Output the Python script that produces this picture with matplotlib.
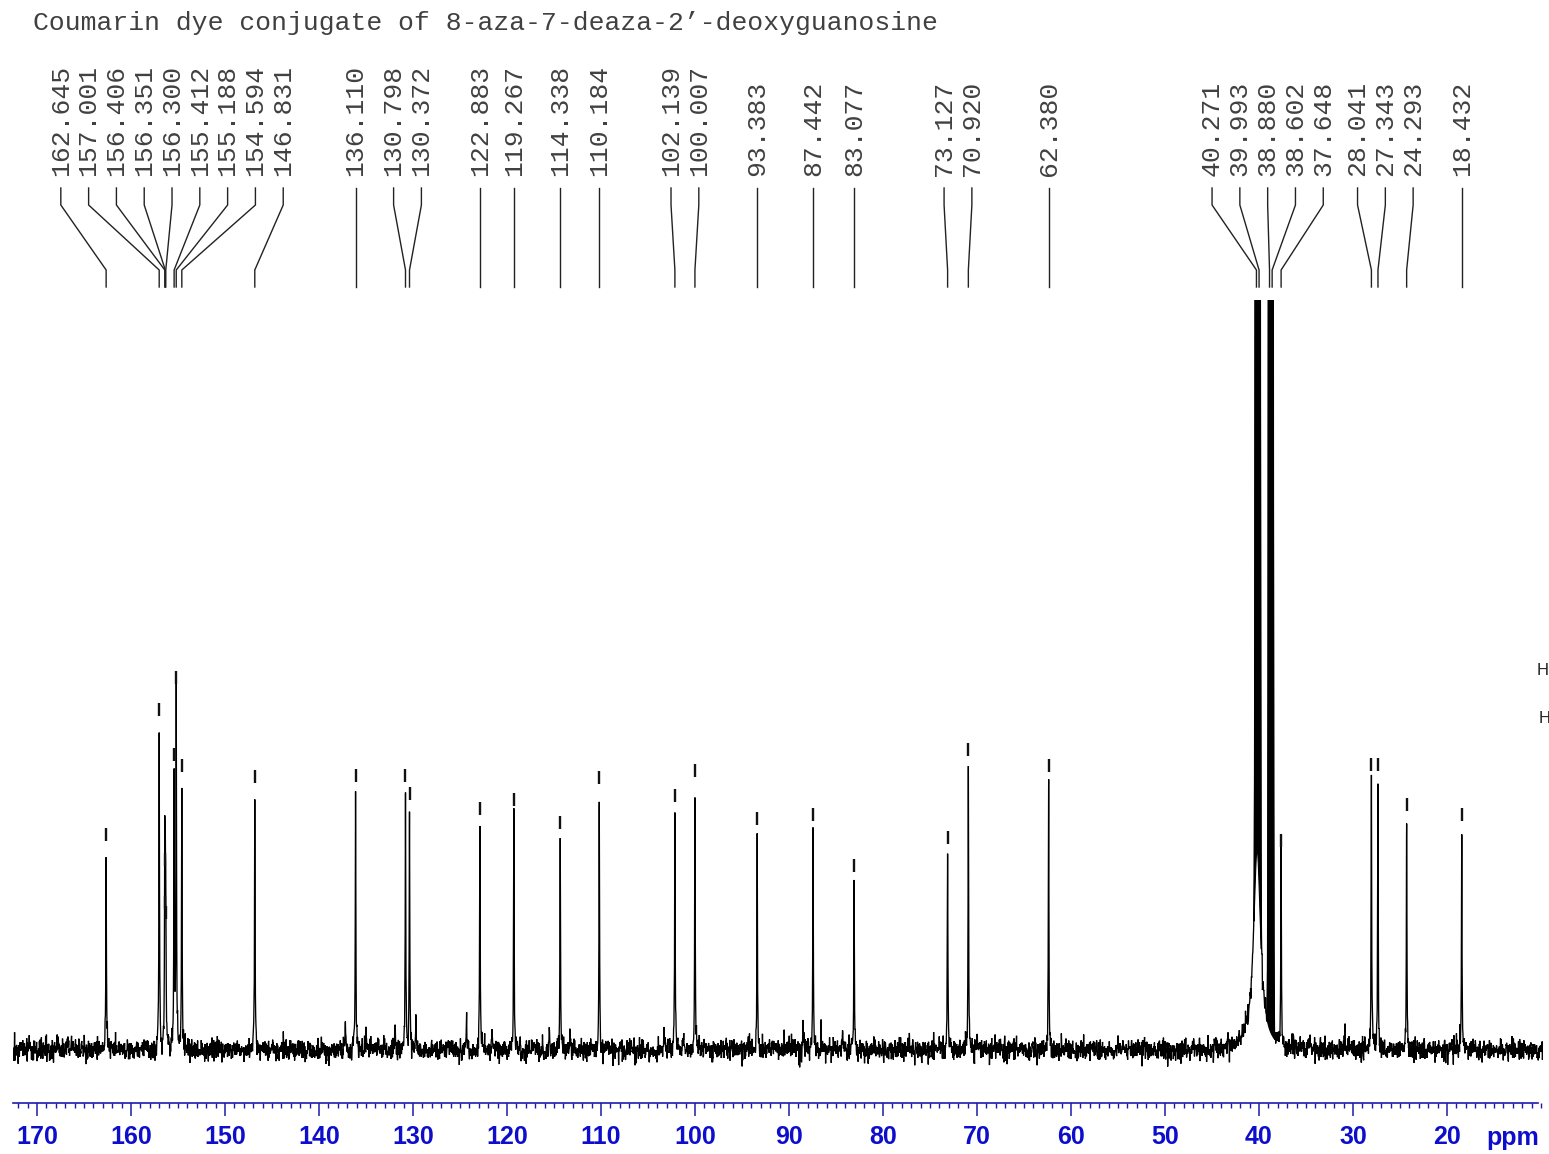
import numpy as np
import matplotlib
matplotlib.use("Agg")
import matplotlib.pyplot as plt
from matplotlib import transforms
from matplotlib.ticker import FixedLocator, NullFormatter

# ---------------------------------------------------------------- data
TITLE = "Coumarin dye conjugate of 8-aza-7-deaza-2\u2019-deoxyguanosine"

# picked 13C signals (ppm) and their intensities (arbitrary units)
peak_ppm = [162.645, 157.001, 156.406, 156.351, 156.300, 155.412, 155.188,
            154.594, 146.831, 136.110, 130.798, 130.372, 122.883, 119.267,
            114.338, 110.184, 102.139, 100.007, 93.383, 87.442, 83.077,
            73.127, 70.920, 62.380, 40.271, 39.993, 38.880, 38.602, 37.648,
            28.041, 27.343, 24.293, 18.432]
peak_height = [198, 323, 173, 130, 120, 278, 355,
               267, 256, 257, 257, 239, 224, 233,
               210, 255, 237, 262, 214, 218, 167,
               195, 283, 267, 3000, 3000, 3000, 3000, 192,
               268, 268, 228, 218]

# the off-scale DMSO-d6 lines (Gaussian width, ppm)
solvent_sigma = {40.271: 0.08, 39.993: 0.08, 38.880: 0.075, 38.602: 0.075}
# broad foot under the solvent multiplet
solvent_base_ppm = 40.2
solvent_base_width = 0.45
solvent_base_height = 200

# small unpicked signals
minor_ppm = [137.2, 135.0, 131.9, 129.7, 124.3, 121.6, 115.5, 113.3,
             103.3, 101.2, 88.5, 86.6, 84.3, 70.0, 30.85]
minor_height = [25, 25, 32, 32, 32, 20, 23, 23,
                18, 20, 25, 18, 22, 20, 20]

major_ticks = [170, 160, 150, 140, 130, 120, 110, 100, 90, 80, 70, 60, 50, 40, 30, 20]

# ---------------------------------------------------------------- layout
W, H = 1549, 1154
DPI = 100
PX_PER_PPM = 9.4
X0_PX, X0_PPM = 37, 170.0


def px_to_ppm(xp):
    return X0_PPM - (xp - X0_PX) / PX_PER_PPM


def fy(yp):
    return 1 - yp / H


AXIS_BLUE = "#1c1ca8"
LABEL_BLUE = "#0d0dcc"
INK = "#111111"
TEXT_GREY = "#404040"

fig = plt.figure(figsize=(W / DPI, H / DPI), dpi=DPI)
fig.patch.set_facecolor("white")

ax_left, ax_right = 13, 1543
ax_top, ax_bottom = 300, 1103
baseline_px = 1050
ax = fig.add_axes([ax_left / W, fy(ax_bottom), (ax_right - ax_left) / W,
                   (ax_bottom - ax_top) / H])
ax.set_xlim(px_to_ppm(ax_left), px_to_ppm(ax_right))
ax.set_ylim(-(ax_bottom - baseline_px), baseline_px - ax_top)
ax.patch.set_alpha(0)

# ---------------------------------------------------------------- spectrum
grid = np.arange(px_to_ppm(ax_right + 2), px_to_ppm(ax_left - 2), 0.03)
grid = np.union1d(grid, np.array(peak_ppm))
spec = np.zeros_like(grid)
for p, h in zip(peak_ppm, peak_height):
    if p in solvent_sigma:
        s = solvent_sigma[p]
        spec += h * np.exp(-0.5 * ((grid - p) / s) ** 2)
    else:
        w = 0.035
        spec += h * w ** 2 / (w ** 2 + (grid - p) ** 2)
for p, h in zip(minor_ppm, minor_height):
    w = 0.035
    spec += h * w ** 2 / (w ** 2 + (grid - p) ** 2)
wb = solvent_base_width
foot = solvent_base_height * wb ** 2 / (wb ** 2 + (grid - solvent_base_ppm) ** 2)
spec += foot

# receiver noise along the baseline
rng = np.random.default_rng(11)
baseline_noise = rng.normal(0.0, 5.4, grid.size)
trace = spec + baseline_noise

ax.plot(grid, trace, color="black", lw=0.95, solid_joinstyle="miter")

# the off-scale solvent lines are drawn as solid bars down to the broad foot
for lo, hi in ((39.75, 40.55), (38.35, 39.15)):
    zone = (grid > lo) & (grid < hi)
    ax.fill_between(grid, trace, foot, where=zone & (trace > foot), color="black", lw=0.8)

# peak pick markers above every signal
mk_lo = [h + 11 for h in peak_height]
mk_hi = [h + 24 for h in peak_height]
ax.vlines(peak_ppm, mk_lo, mk_hi, color=INK, lw=1.7)

# ---------------------------------------------------------------- axis
for s in ("top", "left", "right"):
    ax.spines[s].set_visible(False)
ax.spines["bottom"].set_color(AXIS_BLUE)
ax.spines["bottom"].set_linewidth(1.2)
ax.spines["bottom"].set_bounds(px_to_ppm(ax_left), px_to_ppm(1538))
ax.set_yticks([])
ax.xaxis.set_major_locator(FixedLocator(major_ticks))
ax.xaxis.set_minor_locator(FixedLocator([v for v in range(10, 173) if v not in major_ticks]))
ax.xaxis.set_minor_formatter(NullFormatter())
ax.tick_params(axis="x", which="major", direction="out", length=9.5, width=1.1,
               color=AXIS_BLUE, pad=6.5, labelsize=18, labelcolor=LABEL_BLUE)
ax.tick_params(axis="x", which="minor", direction="out", length=3.8, width=1.0,
               color=AXIS_BLUE)
for lab in ax.get_xticklabels():
    lab.set_fontfamily(["Liberation Sans", "DejaVu Sans"])
    lab.set_fontweight("bold")

fig.text(1513 / W, fy(1145), "ppm", ha="center", va="baseline", fontsize=18,
         fontweight="bold", color=LABEL_BLUE, family=["Liberation Sans", "DejaVu Sans"])

# ---------------------------------------------------------------- title
fig.text(33 / W, fy(30), TITLE, ha="left", va="baseline", fontsize=19,
         family=["Liberation Mono", "DejaVu Sans Mono"], color=TEXT_GREY)

# ---------------------------------------------------------------- peak labels
gap = 27.8 / PX_PER_PPM
order = sorted(range(len(peak_ppm)), key=lambda i: -peak_ppm[i])
clusters = [[i] for i in order]


def place(cl):
    c = np.mean([peak_ppm[i] for i in cl])
    n = len(cl)
    return [c + gap * ((n - 1) / 2 - k) for k in range(n)]


changed = True
while changed:
    changed = False
    for j in range(len(clusters) - 1):
        a = place(clusters[j])
        b = place(clusters[j + 1])
        if a[-1] - b[0] < gap - 1e-9:
            clusters[j] = clusters[j] + clusters[j + 1]
            del clusters[j + 1]
            changed = True
            break

label_pos = {}
for cl in clusters:
    for i, lp in zip(cl, place(cl)):
        label_pos[i] = lp

blend = transforms.blended_transform_factory(ax.transData, fig.transFigure)
for i, p in enumerate(peak_ppm):
    lp = label_pos[i]
    ax.text(lp, fy(176), f"{p:.3f}", rotation=90, ha="center", va="bottom",
            transform=blend, fontsize=19, color=TEXT_GREY,
            family=["Liberation Mono", "DejaVu Sans Mono"], clip_on=False)
    ax.plot([lp, lp, p, p], [fy(188), fy(205), fy(270), fy(287)],
            transform=blend, color="#222222", lw=1.0, clip_on=False)

# partially visible atom labels at the right margin
fig.text(1537 / W, fy(675), "H", fontsize=12, color="#222222",
         family=["Liberation Sans", "DejaVu Sans"], va="baseline")
fig.text(1539 / W, fy(723), "H", fontsize=12, color="#222222",
         family=["Liberation Sans", "DejaVu Sans"], va="baseline")

fig.savefig("out.png", dpi=DPI, facecolor="white")
